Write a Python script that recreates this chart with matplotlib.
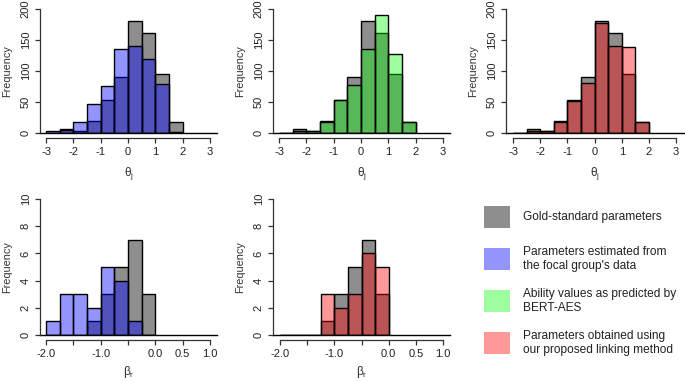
import matplotlib
matplotlib.use("Agg")
import matplotlib.pyplot as plt
from matplotlib.patches import Rectangle

plt.rcParams["font.family"] = ["Liberation Sans", "DejaVu Sans"]

# ===============================
# DATA (counts)
# ===============================
theta_start = -3.0
theta_width = 0.5
gold_theta = [0, 7, 4, 20, 53, 91, 180, 162, 95, 18]
focal_theta = [3, 5, 18, 46, 76, 136, 141, 120, 79, 1]
bert_theta = [0, 3, 3, 17, 54, 77, 135, 191, 128, 18]
linked_theta = [0, 3, 4, 18, 52, 81, 177, 140, 138, 18]

beta_start = -2.0
beta_width = 0.25
gold_beta = [0, 0, 0, 1, 3, 5, 7, 3]
focal_beta = [1, 3, 3, 2, 5, 4, 1, 0]
linked_beta = [0, 0, 0, 3, 2, 3, 6, 5]

theta_ticks = [-3, -2, -1, 0, 1, 2, 3]
theta_ticklabels = ["-3", "-2", "-1", "0", "1", "2", "3"]
beta_ticks = [-2.0, -1.5, -1.0, -0.5, 0.0, 0.5, 1.0]
beta_ticklabels = ["-2.0", "", "-1.0", "", "0.0", "0.5", "1.0"]
theta_yticks = [0, 50, 100, 150, 200]
beta_yticks = [0, 2, 4, 6, 8, 10]

legend_labels = [
    "Gold-standard parameters",
    "Parameters estimated from\nthe focal group's data",
    "Ability values as predicted by\nBERT-AES",
    "Parameters obtained using\nour proposed linking method",
]

GOLD = "#8e8e8e"
BLUE = (0.0, 0.0, 1.0, 0.42)
GREEN = (0.0, 1.0, 0.0, 0.38)
RED = (1.0, 0.0, 0.0, 0.4)
legend_colors = [GOLD, BLUE, GREEN, RED]

W, H = 685, 381
fig = plt.figure(figsize=(W / 100, H / 100), dpi=100)


def px_axes(left, right, top, bottom):
    return fig.add_axes([left / W, 1 - bottom / H, (right - left) / W, (bottom - top) / H])


def draw_hist(ax, start, width, gold, other, color, xlim, ticks, ticklabels, yticks, xlabel, xpad):
    edges = [start + i * width for i in range(len(gold))]
    ax.bar(edges, gold, width=width, align="edge", color=GOLD, edgecolor="black", lw=1.0)
    ax.bar(edges, other, width=width, align="edge", color=color, edgecolor="black", lw=1.0)
    ax.axhline(0, color="black", lw=1.0, clip_on=False)
    ax.set_xlim(xlim)
    ax.set_ylim(0, yticks[-1])
    for s in ["top", "right"]:
        ax.spines[s].set_visible(False)
    ax.spines["left"].set_bounds(0, yticks[-1])
    ax.spines["bottom"].set_bounds(ticks[0], ticks[-1])
    ax.spines["bottom"].set_position(("outward", 3.6))
    for s in ["left", "bottom"]:
        ax.spines[s].set_color("#333333")
        ax.spines[s].set_linewidth(0.9)
    ax.set_xticks(ticks)
    ax.set_xticklabels(ticklabels)
    ax.set_yticks(yticks)
    ax.set_yticklabels([str(v) for v in yticks], rotation=90, va="center")
    ax.tick_params(direction="out", length=3.6, width=0.9, colors="#333333",
                   labelsize=8, labelcolor="#222222", pad=3)
    ax.set_xlabel(xlabel, fontsize=8.5, color="#333333", labelpad=xpad)
    ax.set_ylabel("Frequency", fontsize=7.8, color="#333333", labelpad=6)


# ===============================
# THETA PANELS
# ===============================
ax1 = px_axes(40, 217, 9, 133)
draw_hist(ax1, theta_start, theta_width, gold_theta, focal_theta, BLUE, (-3.22, 3.26),
          theta_ticks, theta_ticklabels, theta_yticks, r"θ$_\mathregular{j}$", 6)
ax2 = px_axes(273, 450, 9, 133)
draw_hist(ax2, theta_start, theta_width, gold_theta, bert_theta, GREEN, (-3.22, 3.26),
          theta_ticks, theta_ticklabels, theta_yticks, r"θ$_\mathregular{j}$", 6)
ax3 = px_axes(506, 684, 9, 133)
draw_hist(ax3, theta_start, theta_width, gold_theta, linked_theta, RED, (-3.26, 3.29),
          theta_ticks, theta_ticklabels, theta_yticks, r"θ$_\mathregular{j}$", 6)

# ===============================
# BETA PANELS
# ===============================
ax4 = px_axes(40, 217, 199, 335)
draw_hist(ax4, beta_start, beta_width, gold_beta, focal_beta, BLUE, (-2.11, 1.13),
          beta_ticks, beta_ticklabels, beta_yticks, r"β$_\mathregular{r}$", 3.5)
ax5 = px_axes(273, 450, 199, 335)
draw_hist(ax5, beta_start, beta_width, gold_beta, linked_beta, RED, (-2.13, 1.13),
          beta_ticks, beta_ticklabels, beta_yticks, r"β$_\mathregular{r}$", 3.5)

# ===============================
# LEGEND
# ===============================
legend_y = [217, 259, 301, 343]
for lab, col, yc in zip(legend_labels, legend_colors, legend_y):
    fig.add_artist(Rectangle((484 / W, 1 - (yc + 11) / H), 26 / W, 22 / H,
                             transform=fig.transFigure, facecolor=col, edgecolor="none"))
    fig.text(523 / W, 1 - yc / H, lab, fontsize=8.6, color="#222222",
             va="center", ha="left", linespacing=1.2)

fig.savefig("out.png", dpi=100)
